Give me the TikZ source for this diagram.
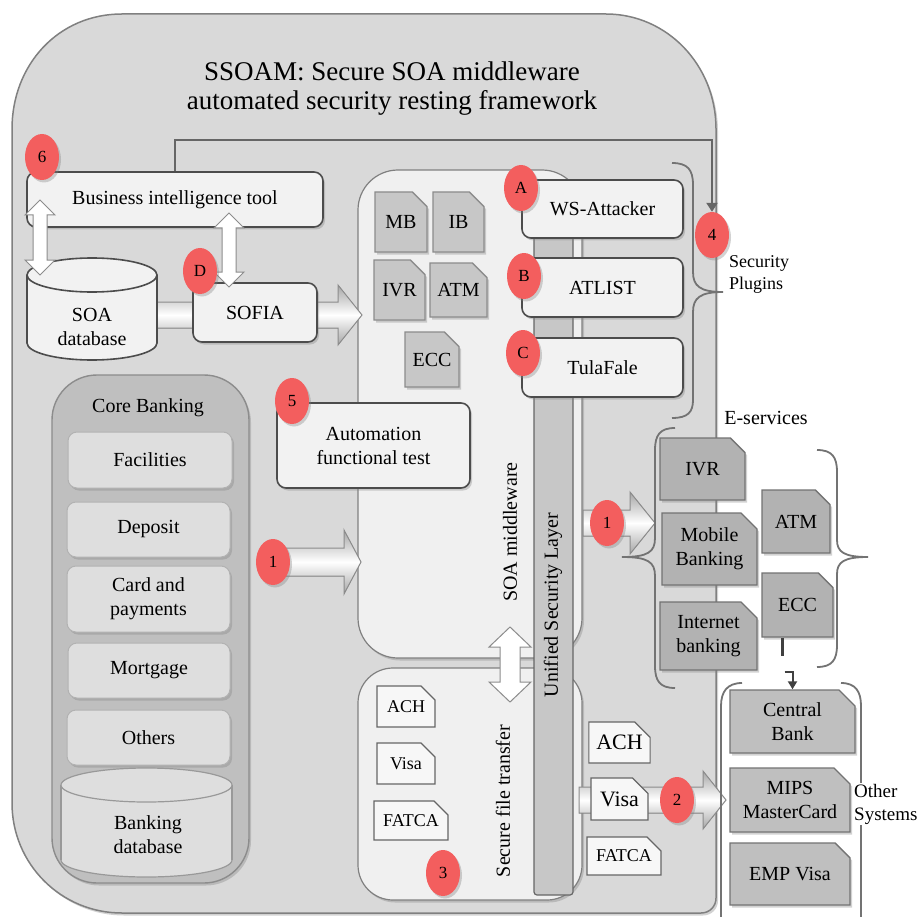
\documentclass[tikz,border=0pt]{standalone}
\usepackage{fontspec}
\setmainfont{Liberation Serif}
\usetikzlibrary{shapes.misc,shapes.geometric,shadows,arrows.meta}
\definecolor{outerfill}{gray}{0.85}
\definecolor{mwfill}{gray}{0.94}
\definecolor{lightbox}{gray}{0.95}
\definecolor{redc}{RGB}{243,94,94}
\newcommand{\fatharrow}[6]{\filldraw[fatarrow] (#1,#3-#4) -- (#2-#6,#3-#4) -- (#2-#6,#3-#5) -- (#2,#3) -- (#2-#6,#3+#5) -- (#2-#6,#3+#4) -- (#1,#3+#4) -- cycle;}
\newcommand{\fatvdarrow}[6]{\filldraw[dblarrow] (#1,#2) -- (#1+#5,#2+#6) -- (#1+#4,#2+#6) -- (#1+#4,#3-#6) -- (#1+#5,#3-#6) -- (#1,#3) -- (#1-#5,#3-#6) -- (#1-#4,#3-#6) -- (#1-#4,#2+#6) -- (#1-#5,#2+#6) -- cycle;}
\begin{document}
\begin{tikzpicture}[x=1pt,y=-1pt,
 shad/.style={drop shadow={shadow xshift=2pt,shadow yshift=-2.5pt,opacity=0.35}},
 sz/.style 2 args={minimum width=#1pt, minimum height=#2pt},
 lbox/.style={rectangle, rounded corners=9pt, draw=black!70, line width=1.6pt, fill=lightbox, inner sep=0pt, align=center, font=\fontsize{20}{24}\selectfont, shad},
 cbox/.style={rectangle, rounded corners=9pt, draw=black!30, line width=1pt, fill=black!13, inner sep=0pt, align=center, font=\fontsize{20}{24}\selectfont, shad},
 fold/.style={chamfered rectangle, chamfered rectangle corners=north east, chamfered rectangle xsep=8pt, chamfered rectangle ysep=8pt, inner sep=0pt, align=center, line width=1.4pt, font=\fontsize{20}{24}\selectfont},
 grayfold/.style={fold, fill=black!22, draw=black!45, shad},
 darkfold/.style={fold, fill=black!30, draw=black!55, shad},
 whitefold/.style={fold, fill=black!3, draw=black!60, line width=1.2pt},
 badge/.style={ellipse, fill=redc, inner sep=0pt, minimum width=34pt, minimum height=46pt, font=\fontsize{17}{17}\selectfont, shad},
 fatarrow/.style={draw=black!45, line width=1pt, top color=black!35, bottom color=black!35, middle color=white},
 dblarrow/.style={draw=black!45, line width=1pt, fill=white},
 bracepath/.style={draw=black!55, line width=1.8pt},
 lbl/.style={font=\fontsize{20}{24}\selectfont, align=center, inner sep=0pt},
]
\useasboundingbox (0,0) rectangle (920,917);
\clip (0,0) rectangle (920,917);
\fill[white] (0,0) rectangle (920,917);

% outer frame
\filldraw[fill=outerfill, draw=black!50, line width=1.5pt, shad]
 (12,500) -- (12,129) .. controls (12,65) and (58,14) .. (122,14) -- (606,14)
 .. controls (667,14) and (716,65) .. (716,129) -- (716,898)
 .. controls (716,906) and (710,913) .. (701,913) -- (122,913)
 .. controls (61,913) and (12,864) .. (12,803) -- cycle;

\node[font=\fontsize{27}{29}\selectfont, align=center] (title) at (392,89) {SSOAM: Secure SOA middleware\\automated security resting framework};

% middleware and file transfer containers
\node[draw=black!50, line width=1.2pt, fill=mwfill, rounded corners=40pt, sz={224}{488}, shad] (mw) at (470,414) {};
\node[draw=black!50, line width=1.2pt, fill=mwfill, rounded corners=35pt, sz={224}{232}, shad] (sft) at (470,784) {};
\node[draw=black!60, line width=1.2pt, fill=black!22, sz={39}{680}, inner sep=0pt, rounded corners=3pt] (usl) at (553.5,555) {};
\node[lbl, rotate=90] (usltext) at (553,605) {Unified Security Layer};
\node[lbl, rotate=90] (mwtext) at (510,532) {SOA middleware};
\node[lbl, rotate=90] (sfttext) at (503,801) {Secure file transfer};

% fat arrows behind boxes
\fatharrow{150}{362}{315}{13}{30}{24}
\fatharrow{262}{361}{562}{14}{32}{17}
\fatharrow{583}{655}{523}{13}{31}{25}
\fatharrow{579}{726}{800}{13}{29}{23}

% feedback line
\node[lbox, sz={296}{55}] (bi) at (175,199.5) {Business intelligence tool};
\node[badge] (c4) at (712,235) {4};
\draw[draw=black!60, line width=2.5pt, -{Triangle[length=9pt,width=11pt]}] (bi.north) -- ++(0,-31) -| (c4.north);

% SOA database
\fill[lightbox, draw=black!70, line width=1.6pt] (92,343) ellipse [x radius=65, y radius=17];
\fill[lightbox] (27,275) rectangle (157,343);
\draw[black!70, line width=1.6pt] (27,275) -- (27,343) (157,275) -- (157,343);
\filldraw[fill=lightbox, draw=black!70, line width=1.6pt] (92,275) ellipse [x radius=65, y radius=17];
\node[lbl] (soadb) at (92,327) {SOA\\database};

\node[lbox, sz={124}{59}] (sofia) at (255,312.5) {SOFIA};

% middleware items
\node[grayfold, sz={52}{60}] (mb) at (401,222) {MB};
\node[grayfold, sz={51}{60}] (ib) at (458.5,222) {IB};
\node[grayfold, sz={51}{60}] (ivr) at (399.5,290) {IVR};
\node[grayfold, sz={57}{54}] (atm) at (458.5,290) {ATM};
\node[grayfold, sz={54}{55}] (ecc) at (432,359.5) {ECC};
\node[lbox, sz={193}{85}] (auto) at (373.5,445.5) {Automation\\functional test};

% plugins
\node[lbox, sz={161}{58}] (ws) at (602.5,209) {WS-Attacker};
\node[lbox, sz={161}{59}] (atlist) at (602.5,287.5) {ATLIST};
\node[lbox, sz={161}{59}] (tula) at (602.5,367.5) {TulaFale};
\draw[bracepath] (672,163) .. controls (688,163) and (693,170) .. (693,185) -- (693,272)
 .. controls (693,286) and (700,292) .. (723,292)
 .. controls (700,292) and (693,298) .. (693,312) -- (693,400)
 .. controls (693,412) and (688,418) .. (672,418);
\node[font=\fontsize{18}{22}\selectfont, align=left, anchor=west, inner sep=0pt] (secpl) at (729,274) {Security\\Plugins};

% core banking
\node[draw=black!45, line width=1.4pt, fill=black!25, rounded corners=45pt, sz={197}{508}, shad] (core) at (150.5,629) {};
\node[lbl] (coretitle) at (148,408) {Core Banking};
\node[cbox, sz={164}{56}] (fac) at (150,460) {Facilities};
\node[cbox, sz={163}{55}] (dep) at (148.5,529.5) {Deposit};
\node[cbox, sz={163}{66}] (card) at (148.5,599) {Card and\\payments};
\node[cbox, sz={162}{55}] (mort) at (149,670.5) {Mortgage};
\node[cbox, sz={163}{55}] (oth) at (148.5,737.5) {Others};
\fill[black!13, draw=black!40, line width=1.2pt] (146.5,860) ellipse [x radius=85.5, y radius=17];
\fill[black!13] (61,785) rectangle (232,860);
\draw[black!40, line width=1.2pt] (61,785) -- (61,860) (232,785) -- (232,860);
\filldraw[fill=black!13, draw=black!40, line width=1.2pt] (146.5,785) ellipse [x radius=85.5, y radius=17];
\node[lbl] (bankdb) at (148,835) {Banking\\database};

% e-services
\node[lbl] (eserv) at (766,418) {E-services};
\draw[bracepath] (675,428) .. controls (660,428) and (655,435) .. (655,450) -- (655,538)
 .. controls (655,552) and (648,557) .. (622,557)
 .. controls (648,557) and (655,562) .. (655,576) -- (655,666)
 .. controls (655,681) and (660,688) .. (675,688);
\draw[bracepath] (817,450) .. controls (832,450) and (837,457) .. (837,472) -- (837,540)
 .. controls (837,552) and (844,557) .. (868,557)
 .. controls (844,557) and (837,562) .. (837,574) -- (837,645)
 .. controls (837,660) and (832,667) .. (817,667);
\node[darkfold, sz={85}{62}] (eivr) at (702.5,469) {IVR};
\node[darkfold, sz={95}{72}] (mobile) at (709.5,549) {Mobile\\Banking};
\node[darkfold, sz={97}{68}] (inet) at (708.5,636) {Internet\\banking};
\node[darkfold, sz={68}{63}] (eatm) at (796,521.5) {ATM};
\node[darkfold, sz={71}{64}] (eecc) at (797.5,605) {ECC};

% other systems
\draw[bracepath] (742,683) .. controls (727,683) and (721,692) .. (721,706) -- (721,925);
\draw[bracepath] (841,683) .. controls (856,683) and (861,692) .. (861,706) -- (861,925);
\node[darkfold, fill=black!25, sz={125}{63}] (central) at (792.5,721.5) {Central\\Bank};
\node[darkfold, fill=black!25, sz={120}{64}] (mips) at (790,800) {MIPS\\MasterCard};
\node[darkfold, fill=black!25, sz={120}{62}] (emp) at (790,874) {EMP Visa};
\node[font=\fontsize{19}{23}\selectfont, align=left, anchor=west, fill=white, inner sep=1pt] (othersys) at (853,804) {Other\\Systems};
\draw[black!75, line width=3pt] (eecc.south) ++(-15,0) -- ++(0,18);
\draw[black!75, line width=2pt, -{Triangle[length=8pt,width=9pt]}] (central.north) ++(-8,-17) -| (central.north);

% files
\node[whitefold, sz={58}{41}, font=\fontsize{18}{22}\selectfont] (acha) at (406,706.5) {ACH};
\node[whitefold, sz={58}{41}, font=\fontsize{18}{22}\selectfont] (visaa) at (406,763.5) {Visa};
\node[whitefold, sz={74}{39}, font=\fontsize{18}{22}\selectfont] (fatcaa) at (411,820.5) {FATCA};
\node[whitefold, sz={57}{41}, font=\fontsize{22}{26}\selectfont] (achb) at (619.5,742.5) {ACH};
\node[whitefold, sz={57}{42}, font=\fontsize{22}{26}\selectfont] (visab) at (619.5,799) {Visa};
\node[whitefold, sz={74}{38}, font=\fontsize{18}{22}\selectfont] (fatcab) at (624,856) {FATCA};

% double arrows
\fatvdarrow{40}{200}{275}{7}{15}{15}
\fatvdarrow{229}{213}{287}{7}{15}{15}
\fatvdarrow{510}{627}{702}{10}{21}{20}

% badges
\node[badge] (c6) at (42,157) {6};
\node[badge] (cd) at (200,271) {D};
\node[badge] (ca) at (521,188) {A};
\node[badge] (cb) at (524,276) {B};
\node[badge] (cc) at (523,353) {C};
\node[badge] (c5) at (292,401) {5};
\node[badge] (c1l) at (273,562) {1};
\node[badge] (c1r) at (607,523) {1};
\node[badge] (c2) at (677,800) {2};
\node[badge] (c3) at (443,873) {3};
\end{tikzpicture}
\end{document}
